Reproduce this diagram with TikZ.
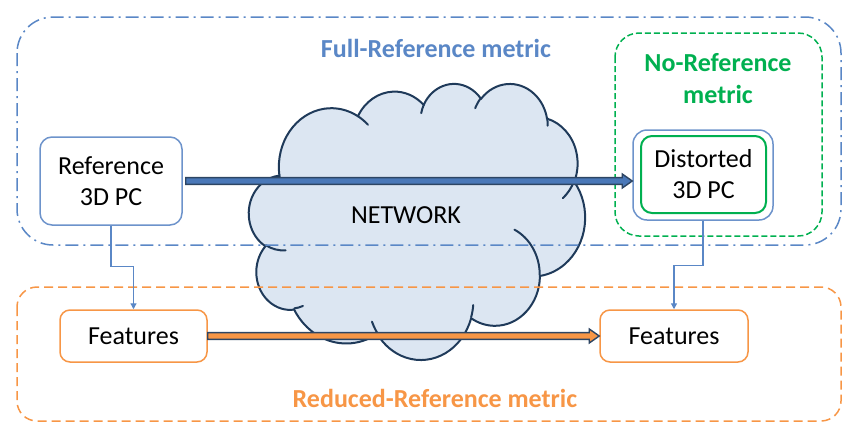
\documentclass[tikz,border=0pt]{standalone}
\usepackage{fontspec}
\setmainfont{Carlito}
\usetikzlibrary{arrows.meta,calc}

\definecolor{frblue}{HTML}{5A87C6}
\definecolor{boxblue}{HTML}{6D93CB}
\definecolor{nrgreen}{HTML}{00B050}
\definecolor{rrorange}{HTML}{F79646}
\definecolor{cloudfill}{HTML}{DCE6F2}
\definecolor{cloudline}{HTML}{1F3A5A}
\definecolor{arrowline}{HTML}{2D4563}
\definecolor{arrowblue}{HTML}{4A78B8}

% Convert an arc given by visual start angle and sweep on an ellipse
% (rx, ry) into TikZ's parametric start angle and delta angle.
\newcommand\cldprep[5]{%
  \pgfmathsetmacro\cldtmpA{atan2(#4*sin(#2),#5*cos(#2))}%
  \pgfmathsetmacro\cldtmpB{atan2(#4*sin(#2+#3),#5*cos(#2+#3))}%
  \pgfmathsetmacro\cldtmpD{\cldtmpB-\cldtmpA}%
  \pgfmathsetmacro\cldtmpD{\cldtmpD+360*(\cldtmpD<0)}%
  \expandafter\let\csname cldS#1\endcsname\cldtmpA
  \expandafter\let\csname cldD#1\endcsname\cldtmpD}

% Thick outlined arrow from the first point to the x of the second
\newcommand\fatarrow[3]{%
  \draw[fatarrow, fill=#3] let \p1=(#1), \p2=(#2) in
    (\x1,\y1+3.4pt) -- (\x2-10pt,\y1+3.4pt) -- (\x2-10pt,\y1+7pt) --
    (\x2,\y1) -- (\x2-10pt,\y1-7pt) -- (\x2-10pt,\y1-3.4pt) --
    (\x1,\y1-3.4pt) -- cycle;}

\begin{document}
\begin{tikzpicture}[x=1pt,y=-1pt,
  txt/.style={font=\fontsize{26}{31}\selectfont, text=black, align=center},
  ttl/.style={font=\fontsize{26}{32}\selectfont\bfseries, align=center, inner sep=0pt},
  bluebox/.style={draw=boxblue, line width=1.5pt, rounded corners=12pt, fill=white, txt, inner sep=0pt},
  greenbox/.style={draw=nrgreen, line width=2pt, rounded corners=11pt, fill=white, txt, inner sep=0pt},
  orangebox/.style={draw=rrorange, line width=1.5pt, rounded corners=10pt, fill=white, txt, inner sep=0pt},
  fullframe/.style={draw=frblue, line width=1.5pt, rounded corners=36pt, dash pattern=on 13pt off 5pt on 2pt off 5pt},
  redframe/.style={draw=rrorange, line width=1.5pt, rounded corners=20pt, dash pattern=on 9pt off 5pt},
  noframe/.style={draw=nrgreen, line width=1.5pt, rounded corners=24pt, dash pattern=on 6pt off 3pt},
  cloudshape/.style={fill=cloudfill, draw=cloudline, line width=2pt, line join=round},
  cloudcurl/.style={draw=cloudline, line width=2pt, line cap=round},
  fatarrow/.style={draw=arrowline, line width=1.4pt, line join=miter},
  conn/.style={draw=frblue, line width=1.2pt, -{Triangle[length=6pt,width=6pt]}}
]
\useasboundingbox (0,0) rectangle (843,424);

% ---- network cloud ----
\begin{scope}[shift={(249pt,-83pt)}, x=0.7778pt, y=-0.6389pt]
  \cldprep{a}{-190.4875}{123.7805}{67.53}{91.90}
  \cldprep{b}{-144.1024}{89.9452}{53.33}{72.67}
  \cldprep{c}{-145.8079}{99.7230}{43.65}{59.45}
  \cldprep{d}{-130.9861}{117.2417}{48.57}{65.95}
  \cldprep{e}{-78.7089}{109.0269}{53.33}{72.73}
  \cldprep{f}{-46.2673}{130.2690}{67.75}{92.20}
  \cldprep{g}{0.6250}{114.0333}{57.85}{78.67}
  \cldprep{h}{22.4516}{115.1726}{67.52}{92.15}
  \cldprep{i}{66.2426}{75.7110}{77.20}{105.43}
  \cldprep{j}{-274.9421}{146.7356}{43.60}{59.18}
  \cldprep{k}{-246.8285}{152.5189}{43.45}{59.45}
  \path[cloudshape] (39.00,143.70)
    arc[start angle=\cldSa, delta angle=\cldDa, x radius=67.53, y radius=91.90]
    arc[start angle=\cldSb, delta angle=\cldDb, x radius=53.33, y radius=72.67]
    arc[start angle=\cldSc, delta angle=\cldDc, x radius=43.65, y radius=59.45]
    arc[start angle=\cldSd, delta angle=\cldDd, x radius=48.57, y radius=65.95]
    arc[start angle=\cldSe, delta angle=\cldDe, x radius=53.33, y radius=72.73]
    arc[start angle=\cldSf, delta angle=\cldDf, x radius=67.75, y radius=92.20]
    arc[start angle=\cldSg, delta angle=\cldDg, x radius=57.85, y radius=78.67]
    arc[start angle=\cldSh, delta angle=\cldDh, x radius=67.52, y radius=92.15]
    arc[start angle=\cldSi, delta angle=\cldDi, x radius=77.20, y radius=105.43]
    arc[start angle=\cldSj, delta angle=\cldDj, x radius=43.60, y radius=59.18]
    arc[start angle=\cldSk, delta angle=\cldDk, x radius=43.45, y radius=59.45]
    -- cycle;
  % inner curls of the cloud
  \cldprep{ia}{86.742}{26.4295}{43.45}{59.45}
  \cldprep{ib}{73.6105}{11.4475}{43.60}{59.18}
  \cldprep{ic}{137.6242}{14.0811}{67.52}{92.15}
  \cldprep{id}{6.4533}{15.9984}{67.52}{92.15}
  \cldprep{ie}{-70.2924}{70.9174}{57.85}{78.67}
  \cldprep{if}{30.318}{27.7515}{53.33}{72.73}
  \cldprep{ig}{-13.7443}{14.8589}{48.57}{65.95}
  \cldprep{ih}{-149.1815}{18.1954}{48.57}{65.95}
  \cldprep{ii}{-163.4943}{17.6864}{43.65}{59.45}
  \cldprep{ij}{-66.7070}{12.3194}{67.53}{91.90}
  \cldprep{ik}{157.6544}{11.8582}{67.53}{91.90}
  \path[cloudcurl]
    (46.93,261.77) arc[start angle=\cldSia, delta angle=\cldDia, x radius=43.45, y radius=59.45]
    (69.28,348.99) arc[start angle=\cldSib, delta angle=\cldDib, x radius=43.60, y radius=59.18]
    (164.78,390.90) arc[start angle=\cldSic, delta angle=\cldDic, x radius=67.52, y radius=92.15]
    (288.27,347.51) arc[start angle=\cldSid, delta angle=\cldDid, x radius=67.52, y radius=92.15]
    (341.29,229.54) arc[start angle=\cldSie, delta angle=\cldDie, x radius=57.85, y radius=78.67]
    (417.98,153.54) arc[start angle=\cldSif, delta angle=\cldDif, x radius=53.33, y radius=72.73]
    (383.24,54.26) arc[start angle=\cldSig, delta angle=\cldDig, x radius=48.57, y radius=65.95]
    (290.78,39.52) arc[start angle=\cldSih, delta angle=\cldDih, x radius=48.57, y radius=65.95]
    (221.41,47.20) arc[start angle=\cldSii, delta angle=\cldDii, x radius=43.65, y radius=59.45]
    (140.00,51.92) arc[start angle=\cldSij, delta angle=\cldDij, x radius=67.53, y radius=91.90]
    (41.27,157.89) arc[start angle=\cldSik, delta angle=\cldDik, x radius=67.53, y radius=91.90];
\end{scope}
\node[txt, inner sep=0pt] (net) at (406,215) {NETWORK};

% ---- metric regions ----
\draw[fullframe] (17,17) rectangle (841,245);
\draw[redframe] (17,287) rectangle (841,421);
\draw[noframe] (615,33) rectangle (822,236);

\node[ttl, text=frblue] (frtitle) at (436,48) {Full-Reference metric};
\node[ttl, text=nrgreen] (nrtitle) at (718,79) {No-Reference\\metric};
\node[ttl, text=rrorange] (rrtitle) at (435,398) {Reduced-Reference metric};

% ---- point clouds ----
\node[bluebox, minimum width=142pt, minimum height=88pt] (ref) at (111,181) {Reference\\3D PC};
\node[bluebox, rounded corners=14pt, minimum width=140pt, minimum height=90pt] (distout) at (703,175) {};
\node[greenbox, minimum width=125pt, minimum height=77pt] (dist) at (703.5,174.5) {Distorted\\3D PC};

% ---- features ----
\node[orangebox, minimum width=147pt, minimum height=52pt] (feat1) at (133.5,336) {Features};
\node[orangebox, minimum width=148pt, minimum height=52pt] (feat2) at (674,336) {Features};

% ---- transmission arrows ----
\coordinate (reftail) at ([xshift=3pt]ref.east);
\fatarrow{reftail}{distout.west}{arrowblue}
\fatarrow{feat1.east}{feat2.west}{rrorange}

% ---- feature extraction ----
\draw[conn] (ref.south) -- ++(0,41) -| (feat1.north);
\draw[conn] (distout.south) -- ++(0,45) -| (feat2.north);
\end{tikzpicture}
\end{document}
